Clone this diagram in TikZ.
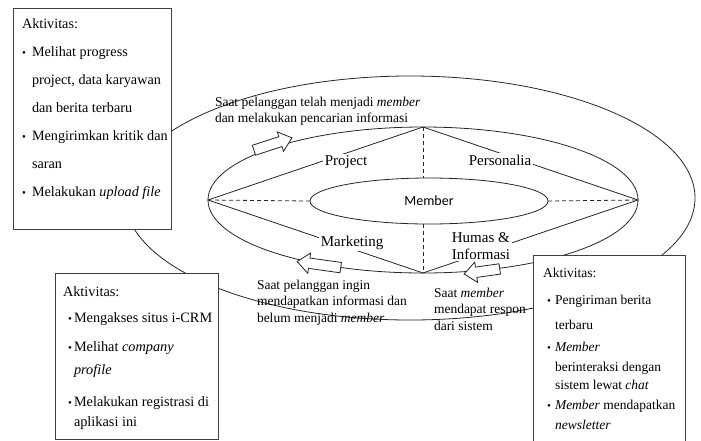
\documentclass[tikz,border=0pt]{standalone}
\usepackage{fontspec}
\setmainfont{Liberation Serif}
\newfontfamily\sansmember{Carlito}
\usepackage{tikz}
\usetikzlibrary{shapes.geometric,shapes.arrows}

\newcommand{\bitem}[1]{\makebox[#1][l]{{\fontsize{11}{11}\selectfont\textbullet}}}

\begin{document}
\begin{tikzpicture}[x=1pt, y=-1pt,
  line width=0.8pt,
  every node/.style = {outer sep=0pt},
  ring/.style = {ellipse, draw=black!85, inner sep=0pt},
  part/.style = {fill=white, inner sep=1.5pt, font=\fontsize{15}{17}\selectfont},
  flow/.style = {single arrow, draw=black!85, fill=white, inner xsep=0pt,
    inner ysep=4.8pt, text height=0pt, text depth=0pt,
    single arrow head extend=5pt, single arrow tip angle=80},
  actbox/.style = {draw=black!75, fill=white, anchor=north west},
  acttext/.style = {anchor=north west, align=left, inner sep=0pt},
  note/.style = {anchor=north west, align=left, inner sep=0pt,
    font=\fontsize{13.5}{16.5}\selectfont}]

  \useasboundingbox (0,0) rectangle (701,440);

  % rings
  \node[ring, minimum width=570pt, minimum height=244pt] (outer) at (410,198) {};
  \node[ring, minimum width=430pt, minimum height=146pt] (middle) at (423,200) {};
  \node[ring, minimum width=238pt, minimum height=46pt,
    font=\sansmember\fontsize{14}{16}\selectfont] (member) at (429,201) {Member};

  % divisions
  \draw[black!85] (middle.west) -- (middle.north) -- (middle.east) -- (middle.south) -- cycle;
  \draw[black!85, dash pattern=on 4pt off 3pt] (middle.north) -- (middle.north |- member.north);
  \draw[black!85, dash pattern=on 4pt off 3pt] (middle.south |- member.south) -- (middle.south);
  \draw[black!85, dash pattern=on 4pt off 3pt] (middle.west) -- (member.west);
  \draw[black!85, dash pattern=on 4pt off 3pt] (member.east) -- (middle.east);

  \node[part] (project) at (346,162) {Project};
  \node[part] (personalia) at (500,160) {Personalia};
  \node[part] (marketing) at (352,243) {Marketing};
  \node[part, align=left] (humas) at (481,246) {Humas \&\\Informasi};

  % flow arrows
  \node[flow, minimum height=40pt, rotate=18] (up) at (270,145) {};
  \node[flow, minimum height=44pt, rotate=172] (left) at (322,265) {};
  \node[flow, minimum height=36pt, rotate=188] (back) at (485,271) {};

  \node[note] (joined) at (215,97) {Saat pelanggan telah menjadi \emph{member}\\dan melakukan pencarian informasi};
  \node[note] (visitor) at (257,280) {Saat pelanggan ingin\\mendapatkan informasi dan\\belum menjadi \emph{member}};
  \node[note] (reply) at (434,288) {Saat \emph{member}\\mendapat respon\\dari sistem};

  % activity boxes
  \node[actbox, minimum width=158pt, minimum height=221pt] (box1) at (13,8) {};
  \node[acttext, font=\fontsize{14.2}{28}\selectfont] (act1) at (22,19) {Aktivitas:\\
    \bitem{10pt}Melihat progress\\
    \hspace*{10pt}project, data karyawan\\
    \hspace*{10pt}dan berita terbaru\\
    \bitem{10pt}Mengirimkan kritik dan\\
    \hspace*{10pt}saran\\
    \bitem{10pt}Melakukan \emph{upload file}};

  \node[actbox, minimum width=163pt, minimum height=166pt] (box2) at (55,273) {};
  \node[acttext, font=\fontsize{14.3}{20}\selectfont] (act2) at (63,287) {Aktivitas:\\[6pt]
    \hspace*{5pt}\bitem{6pt}Mengakses situs i-CRM\\[9pt]
    \hspace*{5pt}\bitem{6pt}Melihat \emph{company}\\[3pt]
    \hspace*{11pt}\emph{profile}\\[12pt]
    \hspace*{5pt}\bitem{6pt}Melakukan registrasi di\\
    \hspace*{11pt}aplikasi ini};

  \node[actbox, minimum width=152pt, minimum height=200pt] (box3) at (533,255) {};
  \node[acttext, font=\fontsize{13.5}{20}\selectfont] (act3) at (543,268) {Aktivitas:\\[7pt]
    \hspace*{4pt}\bitem{8pt}Pengiriman berita\\[5pt]
    \hspace*{12pt}terbaru\\[2pt]
    \hspace*{4pt}\bitem{8pt}\emph{Member}\\
    \hspace*{12pt}berinteraksi dengan\\[-2pt]
    \hspace*{12pt}sistem lewat \emph{chat}\\
    \hspace*{4pt}\bitem{8pt}\emph{Member} mendapatkan\\
    \hspace*{12pt}\emph{newsletter}};
\end{tikzpicture}
\end{document}
